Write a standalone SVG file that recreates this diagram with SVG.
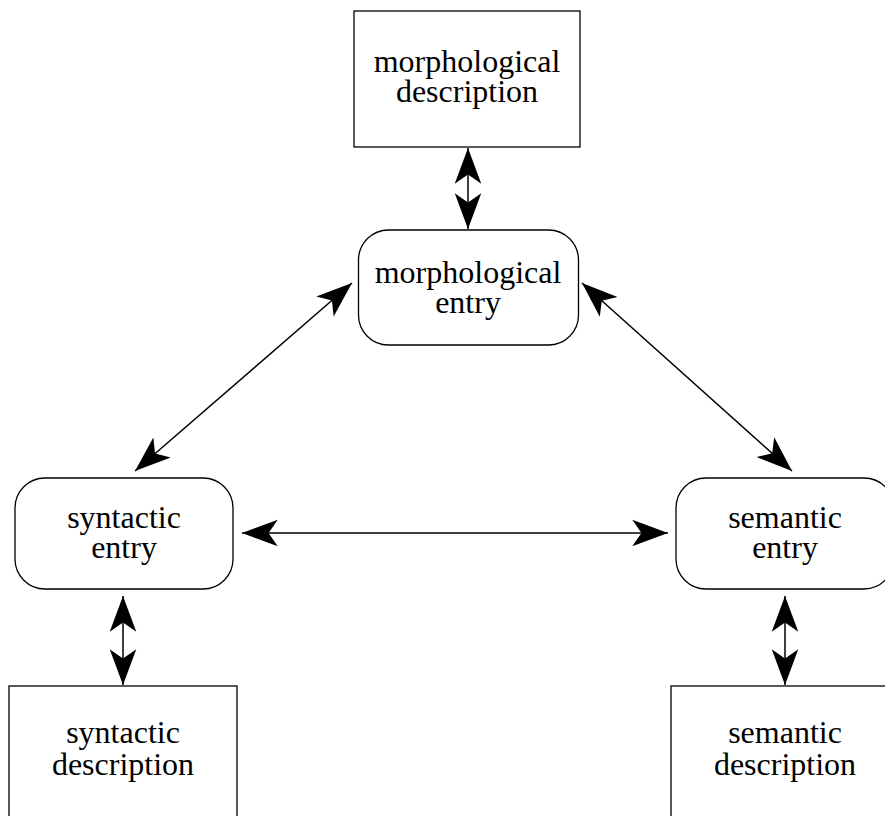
<svg xmlns="http://www.w3.org/2000/svg" width="885" height="816" viewBox="0 0 885 816">
<style>
.box{fill:#fff;stroke:#000;stroke-width:1.3}
.lbl{font-family:"Liberation Serif","Times New Roman",serif;font-size:32px;fill:#000;text-anchor:middle}
.conn{stroke:#000;stroke-width:1.5;fill:none;marker-start:url(#ah);marker-end:url(#ah)}
</style>
<defs>
<marker id="ah" markerUnits="userSpaceOnUse" markerWidth="40" markerHeight="30" viewBox="-32 -13 34 26" refX="0" refY="0" orient="auto-start-reverse" overflow="visible">
<path d="M0,0 L-31,-11.5 L-23,0 L-31,11.5 Z" fill="#000"/>
</marker>
</defs>
<rect width="885" height="816" fill="#fff"/>
<g id="connectors">
<line class="conn" x1="468" y1="148" x2="468" y2="229"/>
<line class="conn" x1="352" y1="283" x2="135" y2="471"/>
<line class="conn" x1="582" y1="283" x2="792" y2="471"/>
<line class="conn" x1="242" y1="533" x2="668" y2="533"/>
<line class="conn" x1="123" y1="596" x2="123" y2="685"/>
<line class="conn" x1="785" y1="596" x2="785" y2="685"/>
</g>
<g id="morphological-description">
<rect class="box" x="354" y="11" width="226" height="136"/>
<text class="lbl"><tspan x="467" y="72">morphological</tspan><tspan x="467" y="102">description</tspan></text>
</g>
<g id="morphological-entry">
<rect class="box" x="358.5" y="230" width="220" height="115" rx="30" ry="30"/>
<text class="lbl"><tspan x="468" y="283">morphological</tspan><tspan x="468" y="313">entry</tspan></text>
</g>
<g id="syntactic-entry">
<rect class="box" x="15" y="478" width="218" height="111" rx="30" ry="30"/>
<text class="lbl"><tspan x="124" y="528">syntactic</tspan><tspan x="124" y="558">entry</tspan></text>
</g>
<g id="semantic-entry">
<rect class="box" x="676" y="478" width="218" height="111" rx="30" ry="30"/>
<text class="lbl"><tspan x="785" y="528">semantic</tspan><tspan x="785" y="558">entry</tspan></text>
</g>
<g id="syntactic-description">
<rect class="box" x="9" y="686" width="228" height="150"/>
<text class="lbl"><tspan x="123" y="743">syntactic</tspan><tspan x="123" y="775">description</tspan></text>
</g>
<g id="semantic-description">
<rect class="box" x="671" y="686" width="228" height="150"/>
<text class="lbl"><tspan x="785" y="743">semantic</tspan><tspan x="785" y="775">description</tspan></text>
</g>
</svg>
